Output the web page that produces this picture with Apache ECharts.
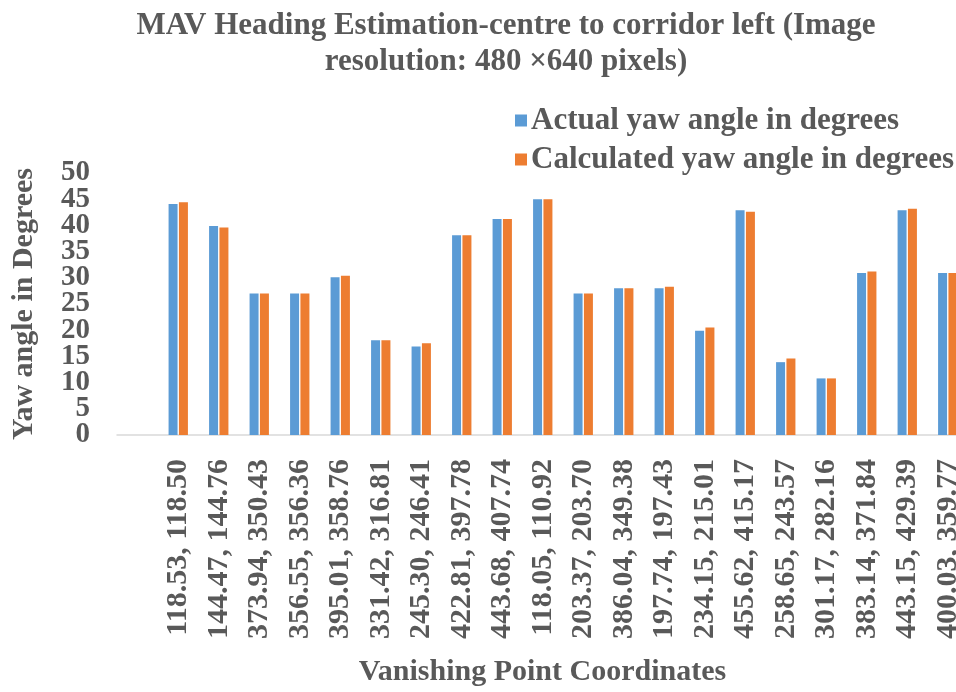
<!DOCTYPE html>
<html>
<head>
<meta charset="utf-8">
<script src="https://cdn.jsdelivr.net/npm/echarts@6/dist/echarts.min.js"></script>
<style>
  html, body { margin: 0; padding: 0; background: #ffffff; }
  #chart { width: 956px; height: 692px; }
</style>
</head>
<body>
<div id="chart"></div>
<script>
// Vanishing point coordinates (x, y) for each test frame
const categories = [
  '118.53, 118.50', '144.47, 144.76', '373.94, 350.43', '356.55, 356.36',
  '395.01, 358.76', '331.42, 316.81', '245.30, 246.41', '422.81, 397.78',
  '443.68, 407.74', '118.05, 110.92', '203.37, 203.70', '386.04, 349.38',
  '197.74, 197.43', '234.15, 215.01', '455.62, 415.17', '258.65, 243.57',
  '301.17, 282.16', '383.14, 371.84', '443.15, 429.39', '400.03, 359.77'
];

// Yaw angles in degrees
const actualYaw = [
  44.1, 39.9, 27.0, 27.0, 30.1, 18.1, 16.9, 38.1, 41.2, 45.0,
  27.0, 28.0, 28.0, 19.9, 42.9, 13.9, 10.8, 30.9, 42.9, 30.9
];
const calculatedYaw = [
  44.4, 39.6, 27.0, 27.0, 30.4, 18.1, 17.5, 38.1, 41.2, 45.0,
  27.0, 28.0, 28.3, 20.5, 42.6, 14.6, 10.8, 31.2, 43.2, 30.9
];

// Y tick labels, split into two sets so the tightly stacked labels all stay visible
const yRange = { min: 0, max: 50 };
const yTicksTens = [0, 10, 20, 30, 40, 50];
const yTicksFives = [5, 15, 25, 35, 45];

const FONT = '"Liberation Serif", "DejaVu Serif", serif';
const INK = '#595959';

const yLabelStyle = {
  margin: 68,
  fontFamily: FONT, fontWeight: 'bold', fontSize: 29, color: INK
};

const chart = echarts.init(document.getElementById('chart'), null, { renderer: 'canvas' });

chart.setOption({
  backgroundColor: '#ffffff',
  animation: false,
  title: {
    text: 'MAV Heading Estimation-centre to corridor left (Image\nresolution: 480 \u00d7640 pixels)',
    left: 501,
    textAlign: 'center',
    top: 3,
    textStyle: {
      fontFamily: FONT, fontWeight: 'bold', fontSize: 31,
      color: INK, lineHeight: 36
    }
  },
  legend: {
    orient: 'vertical',
    left: 510,
    top: 100,
    itemWidth: 12,
    itemHeight: 12,
    itemGap: 8,
    icon: 'rect',
    textStyle: { fontFamily: FONT, fontWeight: 'bold', fontSize: 31, color: INK, padding: [0, 0, 0, -1] },
    data: ['Actual yaw angle in degrees', 'Calculated yaw angle in degrees']
  },
  grid: [
    { left: 158, right: -12, top: 173, bottom: 257, containLabel: false, outerBoundsMode: 'none' },
    { left: 117, right: -12, top: 173, bottom: 257, containLabel: false, outerBoundsMode: 'none' }
  ],
  xAxis: [
    {
      type: 'category',
      gridIndex: 0,
      data: categories,
      axisLine: { show: false },
      axisTick: { show: false },
      axisLabel: {
        rotate: 90,
        margin: 24,
        fontFamily: FONT, fontWeight: 'bold', fontSize: 30, color: INK,
        interval: 0
      }
    },
    {
      // baseline running under the y-axis label column, carrying the axis title
      type: 'value',
      gridIndex: 1,
      min: 0, max: 1,
      axisLine: { show: true, lineStyle: { color: '#d9d9d9', width: 1.5 } },
      axisTick: { show: false },
      axisLabel: { show: false },
      splitLine: { show: false },
      name: 'Vanishing Point Coordinates',
      nameLocation: 'middle',
      nameGap: 222,
      nameTextStyle: { fontFamily: FONT, fontWeight: 'bold', fontSize: 30, color: INK }
    }
  ],
  yAxis: [
    {
      type: 'value',
      gridIndex: 0,
      position: 'left',
      min: yRange.min,
      max: yRange.max,
      axisLine: { show: false },
      axisTick: { show: false },
      splitLine: { show: false },
      axisLabel: Object.assign({ customValues: yTicksTens }, yLabelStyle),
      name: 'Yaw angle in Degrees',
      nameLocation: 'middle',
      nameGap: 119,
      nameTextStyle: { fontFamily: FONT, fontWeight: 'bold', fontSize: 30, color: INK }
    },
    {
      type: 'value',
      gridIndex: 0,
      position: 'left',
      offset: 0,
      min: yRange.min,
      max: yRange.max,
      axisLine: { show: false },
      axisTick: { show: false },
      splitLine: { show: false },
      axisLabel: Object.assign({ customValues: yTicksFives }, yLabelStyle)
    },
    {
      type: 'value',
      gridIndex: 1,
      show: false
    }
  ],
  series: [
    {
      name: 'Actual yaw angle in degrees',
      type: 'bar',
      xAxisIndex: 0, yAxisIndex: 0,
      data: actualYaw,
      barWidth: 9,
      barGap: '15%',
      itemStyle: { color: '#5b9bd5' }
    },
    {
      name: 'Calculated yaw angle in degrees',
      type: 'bar',
      xAxisIndex: 0, yAxisIndex: 0,
      data: calculatedYaw,
      barWidth: 9,
      barGap: '15%',
      itemStyle: { color: '#ed7d31' }
    }
  ]
});
</script>
</body>
</html>
